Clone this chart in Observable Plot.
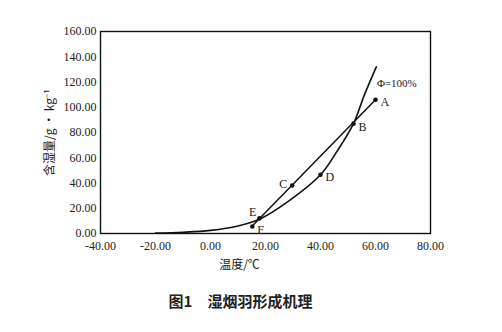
<!DOCTYPE html>
<html><head><meta charset="utf-8">
<script src="https://cdn.jsdelivr.net/npm/d3@7"></script>
<script src="https://cdn.jsdelivr.net/npm/@observablehq/plot@0.6"></script>
<style>body{margin:0;background:#fff;}</style>
</head><body><div id="chart"></div>
<script>
// Saturation curve (phi = 100%)
const satTemp = [-20, -10, 0, 10, 18, 28, 40, 46, 52, 56, 60.3];
const satHum  = [0.3, 1.0, 2.5, 6, 11.5, 25, 46.5, 65, 87, 110, 132];
// Plume mixing line A -> F
const lineTemp = [60, 15];
const lineHum  = [106, 5.5];
// Labelled state points
const ptName = ["A", "B", "C", "D", "E", "F"];
const ptTemp = [60, 52, 29.7, 40, 17.8, 15.2];
const ptHum  = [106, 87, 38, 46.5, 12, 5.5];
const ptDx   = [5, 5, -5, 5, -3, 5];
const ptDy   = [2, 3, -1, 2, -6, 4];
const ptAnchor = ["start", "start", "end", "start", "end", "start"];
const xTicks = [-40, -20, 0, 20, 40, 60, 80];
const yTicks = [0, 20, 40, 60, 80, 100, 120, 140, 160];

const sat = satTemp.map((t, i) => ({t, h: satHum[i]}));
const line = lineTemp.map((t, i) => ({t, h: lineHum[i]}));
const pts = ptName.map((n, i) => ({n, t: ptTemp[i], h: ptHum[i], dx: ptDx[i], dy: ptDy[i], a: ptAnchor[i]}));

const serif = "'Liberation Serif', 'DejaVu Serif', serif";
const cjk = "'Noto Sans CJK SC', sans-serif";

const chart = Plot.plot({
  width: 502, height: 332,
  marginLeft: 100, marginRight: 72, marginTop: 31, marginBottom: 99,
  style: {fontFamily: serif, fontSize: "12px", color: "#222", background: "#fff"},
  x: {domain: [-40, 80], ticks: xTicks, tickFormat: d => d.toFixed(2), tickSize: 0, tickPadding: 8, label: null},
  y: {domain: [0, 160], ticks: yTicks, tickFormat: d => d.toFixed(2), tickSize: 0, tickPadding: 4, label: null},
  marks: [
    Plot.frame({stroke: "#111", strokeWidth: 1.4}),
    Plot.line(sat, {x: "t", y: "h", curve: "catmull-rom", stroke: "#111", strokeWidth: 1.6}),
    Plot.line(line, {x: "t", y: "h", stroke: "#111", strokeWidth: 1.5}),
    Plot.dot(pts, {x: "t", y: "h", r: 2.3, fill: "#111"}),
    ...pts.map(p => Plot.text([p], {x: "t", y: "h", text: "n", dx: p.dx, dy: p.dy, textAnchor: p.a, fontSize: 12, fill: "#222"})),
    Plot.text(["Φ=100%"], {x: [60.5], y: [119], textAnchor: "start", fontSize: 11, fill: "#222"}),
    Plot.text(["含湿量/g • kg⁻¹"], {frameAnchor: "left", dx: -50, rotate: -90, textAnchor: "middle", lineAnchor: "middle", fontFamily: cjk, fontSize: 12, fill: "#222"}),
    Plot.text(["温度/℃"], {frameAnchor: "bottom", dx: -26, dy: 32, textAnchor: "middle", lineAnchor: "middle", fontFamily: cjk, fontSize: 12, fill: "#222"}),
    Plot.text(["图1　湿烟羽形成机理"], {frameAnchor: "bottom", dx: -25, dy: 69, textAnchor: "middle", lineAnchor: "middle", fontFamily: cjk, fontSize: 15, fontWeight: "bold", fill: "#222"})
  ]
});
document.getElementById("chart").append(chart);
</script>
</body></html>
